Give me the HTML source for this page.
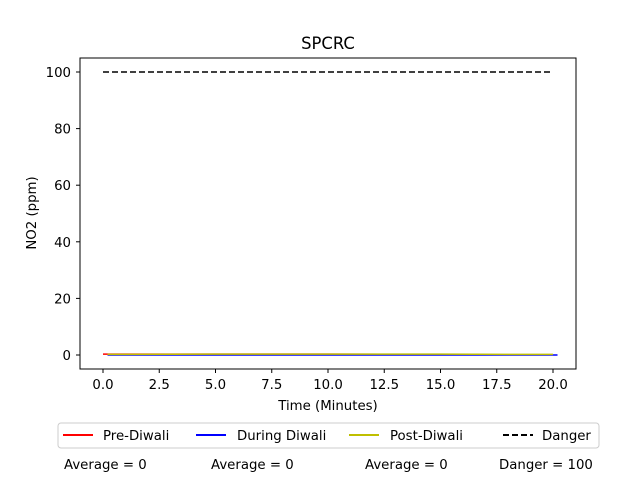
<!DOCTYPE html>
<html><head><meta charset="utf-8"><style>
body{margin:0;background:#fff}
svg text{font-family:"DejaVu Sans","Liberation Sans",sans-serif;fill:#000}
</style></head><body>
<svg id="chart" width="640" height="480">
<rect width="640" height="480" fill="#fff"/>
<text x="328" y="49" font-size="16.4" text-anchor="middle">SPCRC</text>
<g id="plot"></g>
<rect x="80" y="58" width="496" height="311" fill="none" stroke="#000" stroke-width="1"/>
<text x="328" y="410" font-size="13.3" text-anchor="middle">Time (Minutes)</text>
<text transform="translate(36,213) rotate(-90)" font-size="13.3" text-anchor="middle">NO2 (ppm)</text>
<g>
<rect x="58" y="423" width="541" height="25" fill="#fff" stroke="#ccc" rx="3"/>
<line x1="63" y1="435" x2="93" y2="435" stroke="red" stroke-width="2"/>
<text x="103" y="440" font-size="13.3">Pre-Diwali</text>
<line x1="196" y1="435" x2="226" y2="435" stroke="blue" stroke-width="2"/>
<text x="237" y="440" font-size="13.3">During Diwali</text>
<line x1="349" y1="435" x2="379" y2="435" stroke="#bfbf00" stroke-width="2"/>
<text x="390" y="440" font-size="13.3">Post-Diwali</text>
<line x1="503" y1="435" x2="533" y2="435" stroke="#000" stroke-width="2" stroke-dasharray="6,3"/>
<text x="542" y="440" font-size="13.3">Danger</text>
</g>
<text x="64" y="469" font-size="13.3">Average = 0</text>
<text x="211" y="469" font-size="13.3">Average = 0</text>
<text x="365" y="469" font-size="13.3">Average = 0</text>
<text x="499" y="469" font-size="13.3">Danger = 100</text>
</svg>
<script>
const xTicks=[0,2.5,5,7.5,10,12.5,15,17.5,20];
const yTicks=[0,20,40,60,80,100];
const preX=[0,5,10,15.5];
const preY=[0.3,0.3,0.3,0.2];
const duringX=[0.2,5,10,15,20.2];
const duringY=[0,0,0,0,0];
const postX=[0.2,5,10,15,20];
const postY=[0.2,0.3,0.3,0.3,0.2];
const dangerX=[0,20];
const dangerY=[100,100];
const X=v=>103+v*22.5;
const Y=v=>355-v*2.83;
const ns="http://www.w3.org/2000/svg";
const g=document.getElementById('plot');
function mk(t,a){const e=document.createElementNS(ns,t);for(const k in a)e.setAttribute(k,a[k]);g.appendChild(e);return e;}
xTicks.forEach(t=>{
 const l=mk('line',{x1:X(t),x2:X(t),y1:369,y2:373,stroke:'#000'});
 
 
 const tx=mk('text',{x:X(t),y:389,'font-size':13.3,'text-anchor':'middle'});tx.textContent=t.toFixed(1);
 
 
});
yTicks.forEach(t=>{
 const l=mk('line',{x1:76,x2:80,y1:Y(t),y2:Y(t),stroke:'#000'});
 
 
 const tx=mk('text',{x:71,y:Y(t)+5,'font-size':13.3,'text-anchor':'end'});tx.textContent=t;
 
 
});
function line(xs,ys,c,dash,name){
 const p=mk('polyline',{points:xs.map((x,i)=>X(x)+','+Y(ys[i])).join(' '),fill:'none',stroke:c,'stroke-width':1.5});
 if(dash)p.setAttribute('stroke-dasharray','6,3');
 
 
}
line(preX,preY,'red',false,'pre-diwali-line');
line(duringX,duringY,'blue',false,'during-diwali-line');
line(postX,postY,'#bfbf00',false,'post-diwali-line');
line(dangerX,dangerY,'#000',true,'danger-line');
</script>
</body></html>
